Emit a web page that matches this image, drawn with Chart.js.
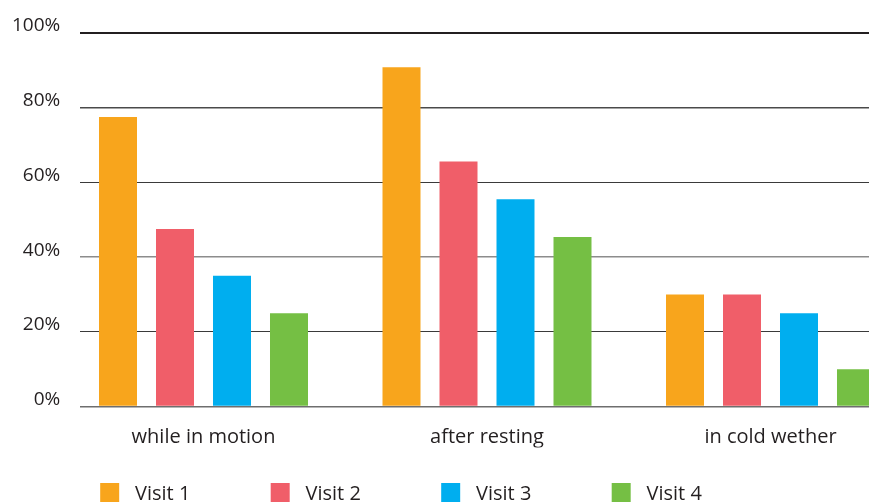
<!DOCTYPE html>
<html>
<head>
<meta charset="utf-8">
<script src="https://cdn.jsdelivr.net/npm/chart.js@4.4.0/dist/chart.umd.min.js"></script>
<style>
  html, body { margin: 0; padding: 0; background: #fff; overflow: hidden; }
  #wrap { position: relative; width: 869px; height: 520px; }
</style>
</head>
<body>
<div id="wrap"><canvas id="visitChart"></canvas></div>
<script>
var categories = ["while in motion", "after resting", "in cold wether"];
var seriesNames = ["Visit 1", "Visit 2", "Visit 3", "Visit 4"];
var visit1 = [77.5, 90.8, 30];
var visit2 = [47.5, 65.6, 30];
var visit3 = [35, 55.5, 25];
var visit4 = [25, 45.4, 10];
var yTicks = [0, 20, 40, 60, 80, 100];
var colors = ["#F8A51C", "#F05E69", "#00AEEF", "#75BF44"];

var textColor = "#231F20";
Chart.defaults.font.family = "'Open Sans', sans-serif";
Chart.defaults.color = textColor;

function toPoints(values) {
  var pts = [];
  for (var i = 0; i < values.length; i++) {
    pts.push({x: i, y: values[i]});
  }
  return pts;
}

// legend swatch: 19x23 block near the right of a wider transparent image
function makeSwatch(color) {
  var c = document.createElement("canvas");
  c.width = 69;
  c.height = 23;
  var g = c.getContext("2d");
  g.fillStyle = color;
  g.fillRect(44, 0, 19, 23);
  return c;
}

var allSeries = [visit1, visit2, visit3, visit4];
var datasets = [];
var swatches = [];
for (var s = 0; s < allSeries.length; s++) {
  datasets.push({
    label: seriesNames[s],
    data: toPoints(allSeries[s]),
    backgroundColor: colors[s],
    borderWidth: 0,
    categoryPercentage: 0.8042,
    barPercentage: 0.6667
  });
  swatches.push(makeSwatch(colors[s]));
}

// group centres sit 283.5px apart, first one 123.5px in from the plot's left edge
var xMin = -123.5 / 283.5;
var xMax = (categories.length - 1) + 98.5 / 283.5;

function gridColor(ctx) {
  var v = ctx.tick.value;
  if (v === 100) return "#231F20";
  if (v === 80) return "#4a4a4a";
  if (v === 40) return "#8c8c8c";
  if (v === 0) return "#6e6e6e";
  return "#3a3a3a";
}
function gridWidth(ctx) {
  var v = ctx.tick.value;
  if (v === 100) return 2;
  if (v === 80 || v === 40 || v === 0) return 1.5;
  return 1;
}

var ctx = document.getElementById("visitChart").getContext("2d");
var visitChart = new Chart(ctx, {
  type: "bar",
  data: { datasets: datasets },
  options: {
    responsive: true,
    maintainAspectRatio: false,
    animation: false,
    layout: { padding: { top: 33, left: 19.8, right: 0, bottom: 6 } },
    plugins: {
      tooltip: { enabled: false },
      legend: {
        position: "bottom",
        align: "start",
        labels: {
          usePointStyle: true,
          pointStyleWidth: 68.7,
          padding: 36.5,
          font: { size: 20 },
          color: textColor,
          generateLabels: function(chart) {
            var items = Chart.defaults.plugins.legend.labels.generateLabels(chart);
            items.forEach(function(it) {
              it.pointStyle = swatches[it.datasetIndex];
            });
            return items;
          }
        }
      }
    },
    scales: {
      x: {
        type: "linear",
        min: xMin,
        max: xMax,
        offset: false,
        grid: { display: false, drawTicks: false },
        border: { display: false },
        ticks: {
          padding: 19,
          maxRotation: 0,
          autoSkip: false,
          font: { size: 20 },
          color: textColor,
          callback: function(v) { return categories[v]; }
        },
        afterBuildTicks: function(scale) {
          scale.ticks = categories.map(function(c, i) { return {value: i}; });
        },
        afterFit: function(scale) { scale.height = 41; }
      },
      y: {
        min: 0,
        max: 100,
        grid: { color: gridColor, lineWidth: gridWidth, drawTicks: false },
        border: { display: false },
        ticks: {
          mirror: true,
          crossAlign: "far",
          padding: -68,
          labelOffset: -7,
          font: { size: 19 },
          color: textColor,
          callback: function(v) { return v + "%"; }
        },
        afterBuildTicks: function(scale) {
          scale.ticks = yTicks.map(function(v) { return {value: v}; });
        },
        afterFit: function(scale) { scale.width = 60.2; }
      }
    }
  }
});
</script>
</body>
</html>
